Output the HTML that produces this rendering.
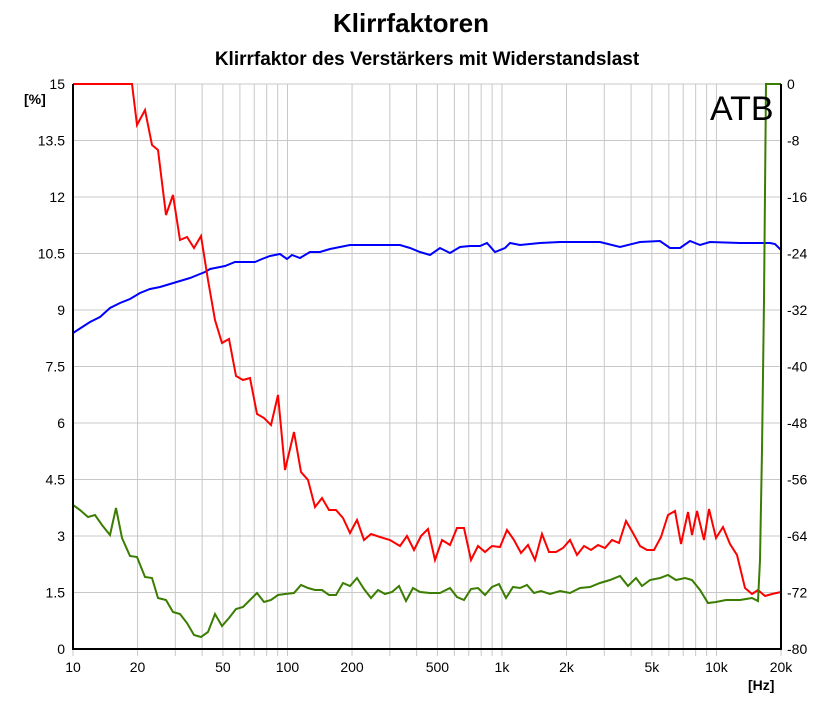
<!DOCTYPE html><html><head><style>body{margin:0;background:#fff}svg{display:block;font-family:"Liberation Sans",Arial,sans-serif}</style></head><body>
<svg width="822" height="721" xmlns="http://www.w3.org/2000/svg">
<text x="411" y="32" font-size="26" font-weight="bold" text-anchor="middle">Klirrfaktoren</text>
<text x="427" y="65" font-size="19" font-weight="bold" text-anchor="middle">Klirrfaktor des Verstärkers mit Widerstandslast</text>
<g id="grid" stroke="#c8c8c8" stroke-width="1"></g>
<g font-size="14" id="lbl"></g>
<polyline fill="none" stroke="#0000ff" stroke-width="2" points="73,333 90,322 100,317 110,308 120,303 130,299 140,293 150,289 160,287 170,284 180,281 190,278 200,274 205,272 210,269 215,268 225,266 235,262 245,262 255,262 262,259 270,256 280,254 287,259 292,255 300,258 310,252 320,252 330,249 340,247 350,245 380,245 400,245 410,248 420,252 430,255 440,248 450,253 460,247 470,246 480,246 487,243 495,252 505,248 510,243 520,245 540,243 560,242 600,242 620,247 640,242 660,241 670,248 680,248 690,241 700,245 710,242 740,243 760,243 770,243 775,244 781,250"/>
<polyline fill="none" stroke="#ff0000" stroke-width="2" points="73,84 132,84 137,125 145,110 152,145 158,150 166,215 173,195 180,240 187,237 194,248 201,236 208,280 215,320 222,343 229,339 236,376 243,380 250,378 257,414 264,418 271,425 278,395 285,470 294,432 301,472 308,480 315,507 322,498 329,510 336,510 343,518 350,533 357,520 364,540 371,534 380,537 390,540 400,546 407,536 414,550 421,536 428,529 435,560 442,540 450,545 457,528 464,528 471,560 478,546 485,552 492,546 500,547 507,530 514,540 521,553 528,545 535,560 542,534 549,552 556,552 563,548 570,540 577,555 584,546 591,550 598,545 605,548 612,540 619,543 626,521 633,533 640,546 647,550 654,550 661,537 668,515 675,511 681,544 688,512 692,535 697,511 704,540 709,509 716,538 723,527 730,544 737,555 745,588 752,594 758,590 765,596 772,594 781,592"/>
<polyline fill="none" stroke="#3a7d00" stroke-width="2" points="73,505 80,510 88,517 95,515 102,525 110,535 116,508 122,538 130,556 137,557 145,577 152,578 158,598 166,600 173,612 180,614 187,623 194,635 201,637 208,632 215,614 222,626 229,618 236,609 243,607 250,600 257,593 264,602 271,600 278,595 285,594 294,593 301,585 308,588 315,590 322,590 329,595 336,595 343,583 350,586 357,578 364,589 371,598 378,590 385,594 392,592 399,586 406,601 413,588 420,592 430,593 440,593 450,588 457,597 464,600 471,589 478,588 485,595 492,587 499,584 506,598 513,587 520,588 527,585 534,593 541,591 550,594 560,591 570,593 580,588 590,587 600,583 610,580 620,576 628,586 636,578 642,586 650,580 660,578 668,575 676,580 685,578 692,580 700,590 708,603 716,602 726,600 740,600 752,598 758,601 760,560 762,450 764,300 766,84 781,84"/>
<path d="M73,84V649H781V84" fill="none" stroke="#000" stroke-width="2"/>
<text x="710" y="120" font-size="34">ATB</text>
<text x="24" y="104" font-size="14" font-weight="bold">[%]</text>
<text x="748" y="690" font-size="14" font-weight="bold">[Hz]</text>
<script>
var g=document.getElementById('grid'),l=document.getElementById('lbl'),ns='http://www.w3.org/2000/svg';
function L(a,b,c,d){var e=document.createElementNS(ns,'line');e.setAttribute('x1',a);e.setAttribute('y1',b);e.setAttribute('x2',c);e.setAttribute('y2',d);g.appendChild(e);}
function T(x,y,s,a){var e=document.createElementNS(ns,'text');e.setAttribute('x',x);e.setAttribute('y',y);e.setAttribute('text-anchor',a);e.textContent=s;l.appendChild(e);}
var pd=708/Math.log10(2000);
function X(f){return 73+Math.log10(f/10)*pd;}
[10,100,1000,10000].forEach(function(d){for(var k=1;k<10;k++){var f=d*k;if(f>20000)break;L(X(f),84,X(f),656);}});
var xl={10:'10',20:'20',50:'50',100:'100',200:'200',500:'500',1000:'1k',2000:'2k',5000:'5k',10000:'10k',20000:'20k'};
for(var f in xl)T(X(+f),672,xl[f],'middle');
for(var i=0;i<=10;i++){var y=84+i*56.5;L(73,y,781,y);var v=15-1.5*i;T(65,y+5,(v%1?v.toFixed(1):v),'end');T(787,y+5,(-8*i)+'','start');}
</script>
</svg></body></html>
